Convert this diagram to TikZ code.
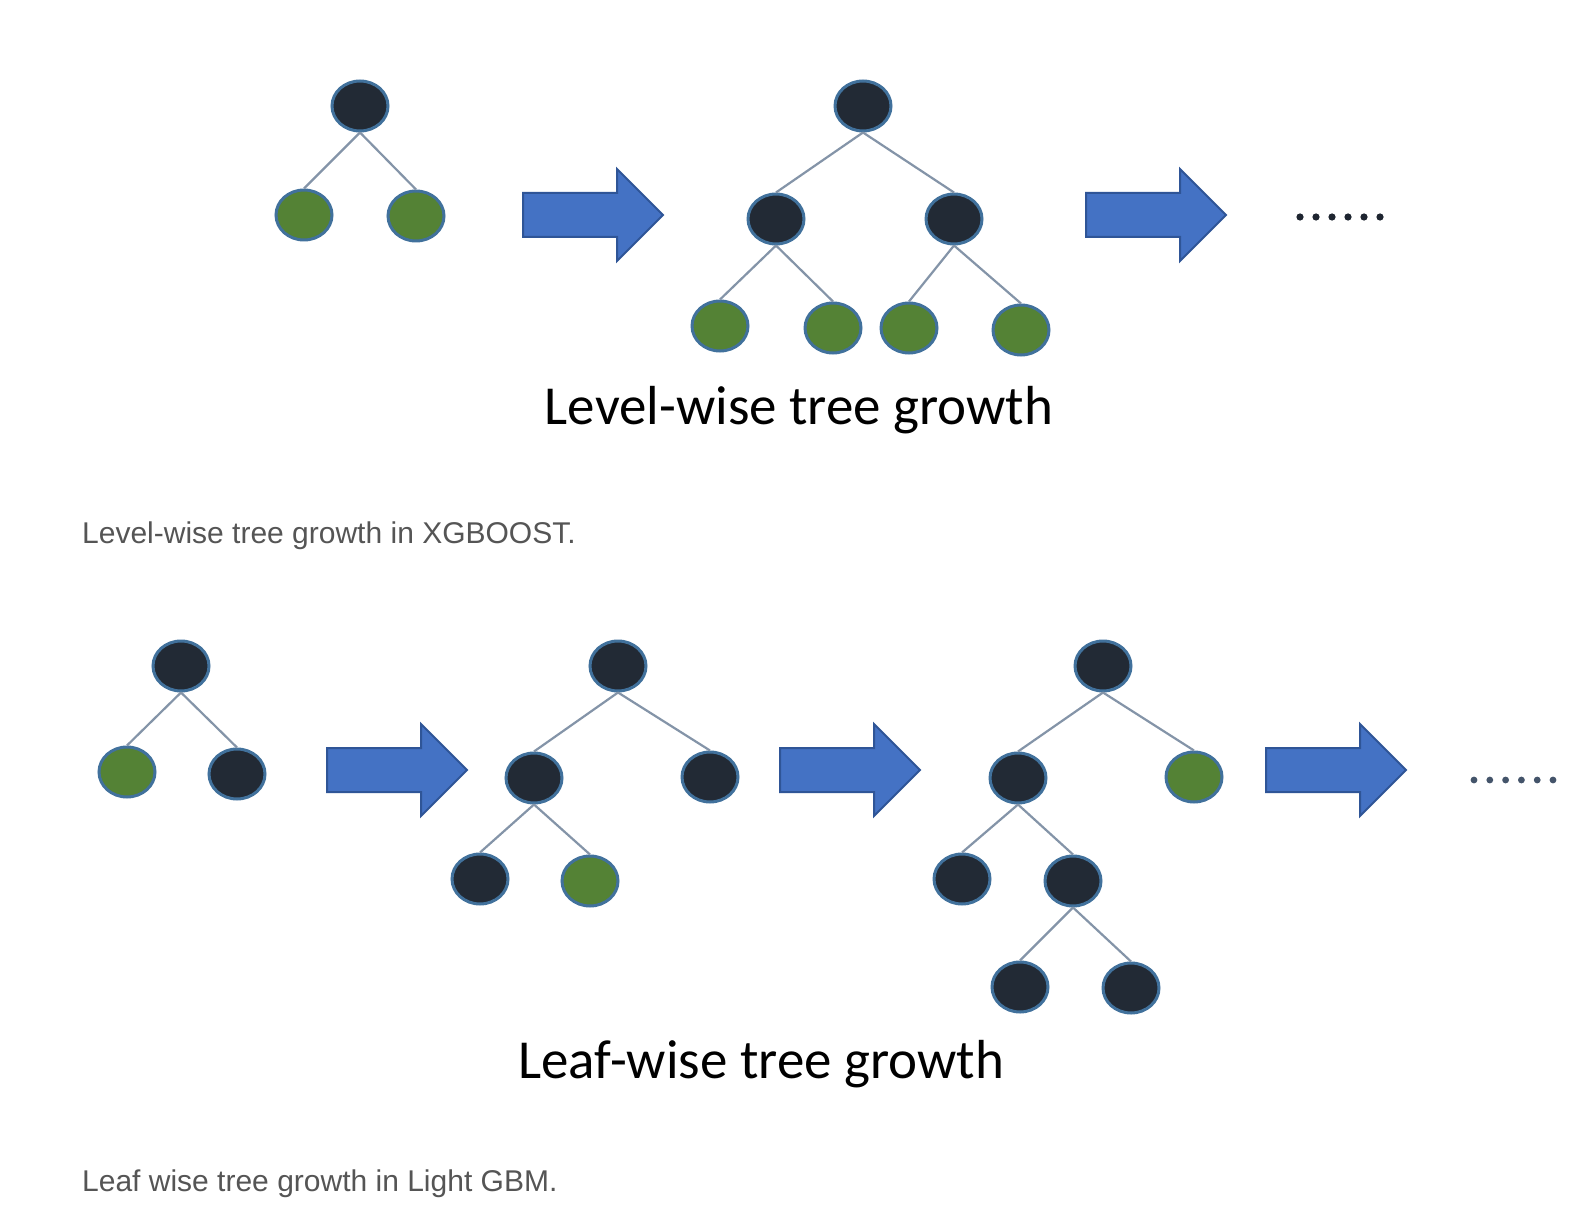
\documentclass[tikz,border=0pt]{standalone}
\usepackage{fontspec}
\setmainfont{Carlito}
\newfontfamily\captionfont{Liberation Sans}
\usetikzlibrary{shapes.geometric,shapes.arrows}
\definecolor{nodedark}{HTML}{222A35}
\definecolor{nodegreen}{HTML}{548235}
\definecolor{nodeborder}{HTML}{41719C}
\definecolor{edgegray}{HTML}{8494A8}
\definecolor{arrowfill}{HTML}{4472C4}
\definecolor{arrowborder}{HTML}{2F5597}
\definecolor{captiongray}{HTML}{555555}
\definecolor{dotdark}{HTML}{1E2530}
\definecolor{dotgray}{HTML}{44546A}
\tikzstyle{split-node}=[ellipse,fill=nodedark,draw=nodeborder,line width=3pt,minimum width=56pt,minimum height=50pt,inner sep=0pt]
\tikzstyle{leaf-node}=[ellipse,fill=nodegreen,draw=nodeborder,line width=3pt,minimum width=56pt,minimum height=50pt,inner sep=0pt]
\tikzstyle{grow-arrow}=[single arrow,fill=arrowfill,draw=arrowborder,line width=2pt,minimum height=140pt,inner xsep=0pt,inner ysep=21pt,single arrow head extend=24pt,single arrow tip angle=90,single arrow head indent=0pt]
\tikzstyle{tree-edge}=[draw=edgegray,line width=2.2pt]
\tikzstyle{title-text}=[font=\fontsize{55}{58}\selectfont,text=black]
\tikzstyle{caption-text}=[font=\captionfont\fontsize{30}{33}\selectfont,text=captiongray,anchor=base west,inner sep=0pt]

\begin{document}
\begin{tikzpicture}[x=1pt,y=-1pt]
        \useasboundingbox[fill=white] (0,0) rectangle (1592,1230);
        % level-wise growth
        \begin{scope}
            \node[split-node] at (360,106) (a0) {};
            \node[leaf-node] at (304,215) (a1) {};
            \node[leaf-node] at (416,216) (a2) {};
            \foreach \b in {1, 2}
                \draw[tree-edge] (a0.south) -- (a\b.north);

            \node[grow-arrow] at (582,215) (ar1) {};

            \node[split-node] at (863,106) (b0) {};
            \node[split-node] at (776,219) (b1) {};
            \node[split-node] at (954,219) (b2) {};
            \node[leaf-node] at (720,326) (b3) {};
            \node[leaf-node] at (833,328) (b4) {};
            \node[leaf-node] at (909,328) (b5) {};
            \node[leaf-node] at (1021,330) (b6) {};
            \foreach \a/\b in {0/1, 0/2, 1/3, 1/4, 2/5, 2/6}
                \draw[tree-edge] (b\a.south) -- (b\b.north);

            \node[grow-arrow] at (1145,215) (ar2) {};

            \foreach \i in {0,...,5}
                \fill[dotdark] (1300+16*\i,217) circle (3.6pt);

            \node[title-text] at (799,410) (title1) {Level-wise tree growth};
            \node[caption-text] at (82,543) (cap1) {Level-wise tree growth in XGBOOST.};
        \end{scope}
        % leaf-wise growth
        \begin{scope}
            \node[split-node] at (181,666) (c0) {};
            \node[leaf-node] at (127,772) (c1) {};
            \node[split-node] at (237,774) (c2) {};
            \foreach \b in {1, 2}
                \draw[tree-edge] (c0.south) -- (c\b.north);

            \node[grow-arrow] at (386,770) (ar3) {};

            \node[split-node] at (618,666) (d0) {};
            \node[split-node] at (534,778) (d1) {};
            \node[split-node] at (710,777) (d2) {};
            \node[split-node] at (480,879) (d3) {};
            \node[leaf-node] at (590,881) (d4) {};
            \foreach \a/\b in {0/1, 0/2, 1/3, 1/4}
                \draw[tree-edge] (d\a.south) -- (d\b.north);

            \node[grow-arrow] at (839,770) (ar4) {};

            \node[split-node] at (1103,666) (e0) {};
            \node[split-node] at (1018,778) (e1) {};
            \node[leaf-node] at (1194,777) (e2) {};
            \node[split-node] at (962,879) (e3) {};
            \node[split-node] at (1073,881) (e4) {};
            \node[split-node] at (1020,987) (e5) {};
            \node[split-node] at (1131,988) (e6) {};
            \foreach \a/\b in {0/1, 0/2, 1/3, 1/4, 4/5, 4/6}
                \draw[tree-edge] (e\a.south) -- (e\b.north);

            \node[grow-arrow] at (1325,770) (ar5) {};

            \foreach \i in {0,...,5}
                \fill[dotgray] (1474+15.8*\i,780) circle (3.4pt);

            \node[title-text] at (761,1064) (title2) {Leaf-wise tree growth};
            \node[caption-text] at (82,1191) (cap2) {Leaf wise tree growth in Light GBM.};
        \end{scope}
\end{tikzpicture}
\end{document}
